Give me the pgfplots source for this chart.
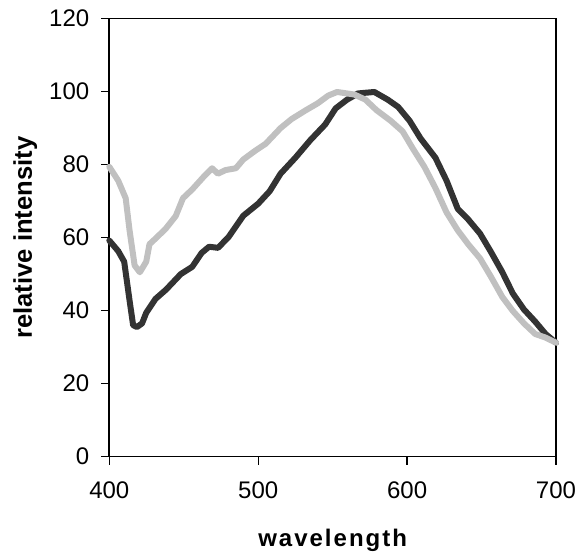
\documentclass[border=0pt]{standalone}
\usepackage{pgfplots}
\pgfplotsset{compat=1.18}
\usepackage{fontspec}
\setmainfont{Liberation Sans}
\definecolor{darkc}{HTML}{333333}
\definecolor{lightc}{HTML}{C0C0C0}
\begin{document}
\begin{tikzpicture}
\useasboundingbox (0,0) rectangle (289.5pt,277pt);
\begin{axis}[
  at={(54.65pt,48.7pt)}, anchor=south west,
  scale only axis, width=223.35pt, height=219pt,
  xmin=400, xmax=700, ymin=0, ymax=120,
  xtick={400,500,600,700}, ytick={0,20,...,120},
  tick align=outside, tick pos=left,
  major tick length=4pt,
  axis line style={line width=0.8pt},
  tick style={line width=0.6pt, black},
  ticklabel style={font=\fontsize{12}{14}\selectfont},
  xticklabel style={yshift=-5pt},
  yticklabel style={xshift=-2.5pt},
  /pgf/number format/assume math mode=true,
  xlabel={\textbf{w\kern1pt a\kern1pt v\kern1pt e\kern1pt l\kern1pt e\kern1pt n\kern1pt g\kern1pt t\kern1pt h}},
  ylabel={\textbf{relative intensity}},
  xlabel style={font=\fontsize{12}{14}\selectfont, at={(axis description cs:0.5,-0.192)}, anchor=center},
  ylabel style={font=\fontsize{12.8}{14}\selectfont, at={(axis description cs:-0.188,0.5)}, anchor=center},
  clip=false,
]
\addplot[darkc, line width=3pt, line join=round, line cap=round] coordinates {
(400,59.2)(406,56.3)(410,53.4)(413.6,42.8)(416,36)(418.6,35.5)(422,36.5)(424.8,39.4)
(431,43.2)(438,45.7)(448,50)(455.7,52)(462,55.8)(467,57.5)(473,57.2)(480,60.1)
(490,66)(500,69.3)(507.7,72.7)(515,77.5)(525,81.9)(535,86.7)(545,91)(552,95.4)
(559.7,97.8)(567,99.5)(578,99.9)(587,97.8)(594,95.8)(601.7,92)(609,87.2)(619,81.9)
(626.5,75.6)(634,67.9)(641,65)(649,61.1)(656,56.3)(664,50.5)(671,44.7)(678.5,40.3)
(686,37)(693,33.6)(700,31.2)
};
\addplot[lightc, line width=3pt, line join=round, line cap=round] coordinates {
(400,79.4)(406,75.6)(411,70.8)(413.6,62)(417,52.4)(420.5,50.5)(424.8,53.4)(427,58.2)
(432,60.1)(438,62.5)(444.6,65.9)(449.5,70.8)(455.7,73.2)(463,76.5)(469,79)(473,77.5)
(478,78.5)(485,79)(490,81.4)(498,83.8)(505,85.7)(515,90)(522.5,92.5)(532,94.9)
(540,96.8)(547,98.9)(553,99.9)(564.6,99.2)(572,97.8)(579.5,94.9)(589,92)(597,89.1)
(604,84.3)(611.6,79.4)(619,73.6)(626.5,66.9)(634,62)(641,58.2)(649,54.3)(656,49.5)
(664,43.7)(671,39.9)(678.5,36.5)(686,33.6)(693,32.6)(700,31.2)
};
\end{axis}
\end{tikzpicture}
\end{document}
